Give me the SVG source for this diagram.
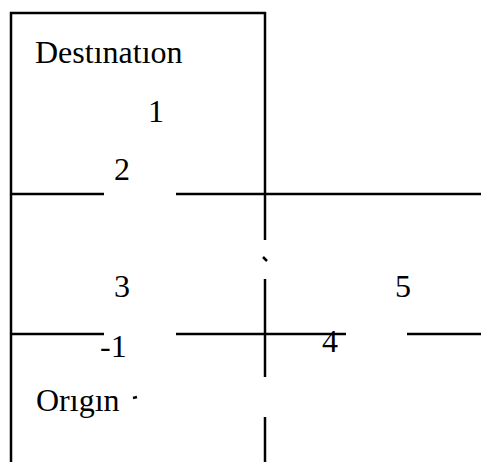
<svg xmlns="http://www.w3.org/2000/svg" width="482" height="462" viewBox="0 0 482 462">
<style>
line{stroke:#000;stroke-width:2.5;stroke-linecap:butt}
text{font-family:"Liberation Serif","Times New Roman",serif;font-size:32px;fill:#000}
</style>
<rect width="482" height="462" fill="#fff"/>
<g id="lines">
<line x1="11" y1="12" x2="11" y2="462"/>
<line x1="10" y1="13" x2="266" y2="13"/>
<line x1="265" y1="12" x2="265" y2="240"/>
<line x1="263" y1="257" x2="267" y2="261" stroke-width="1.5"/>
<line x1="265" y1="279" x2="265" y2="377"/>
<line x1="265" y1="417" x2="265" y2="462"/>
<line x1="11" y1="194" x2="104" y2="194"/>
<line x1="176" y1="194" x2="481" y2="194"/>
<line x1="11" y1="334" x2="104" y2="334"/>
<line x1="176" y1="334" x2="346" y2="334"/>
<line x1="407" y1="334" x2="481" y2="334"/>
<line x1="133" y1="398" x2="137" y2="397" stroke-width="1.5"/>
</g>
<g id="labels">
<text x="35" y="63">Destınatıon</text>
<text x="148" y="122">1</text>
<text x="114" y="180">2</text>
<text x="114" y="297">3</text>
<text x="395" y="297">5</text>
<text x="100" y="357">-1</text>
<text x="322" y="352">4</text>
<text x="36" y="411">Orıgın</text>
</g>
</svg>
